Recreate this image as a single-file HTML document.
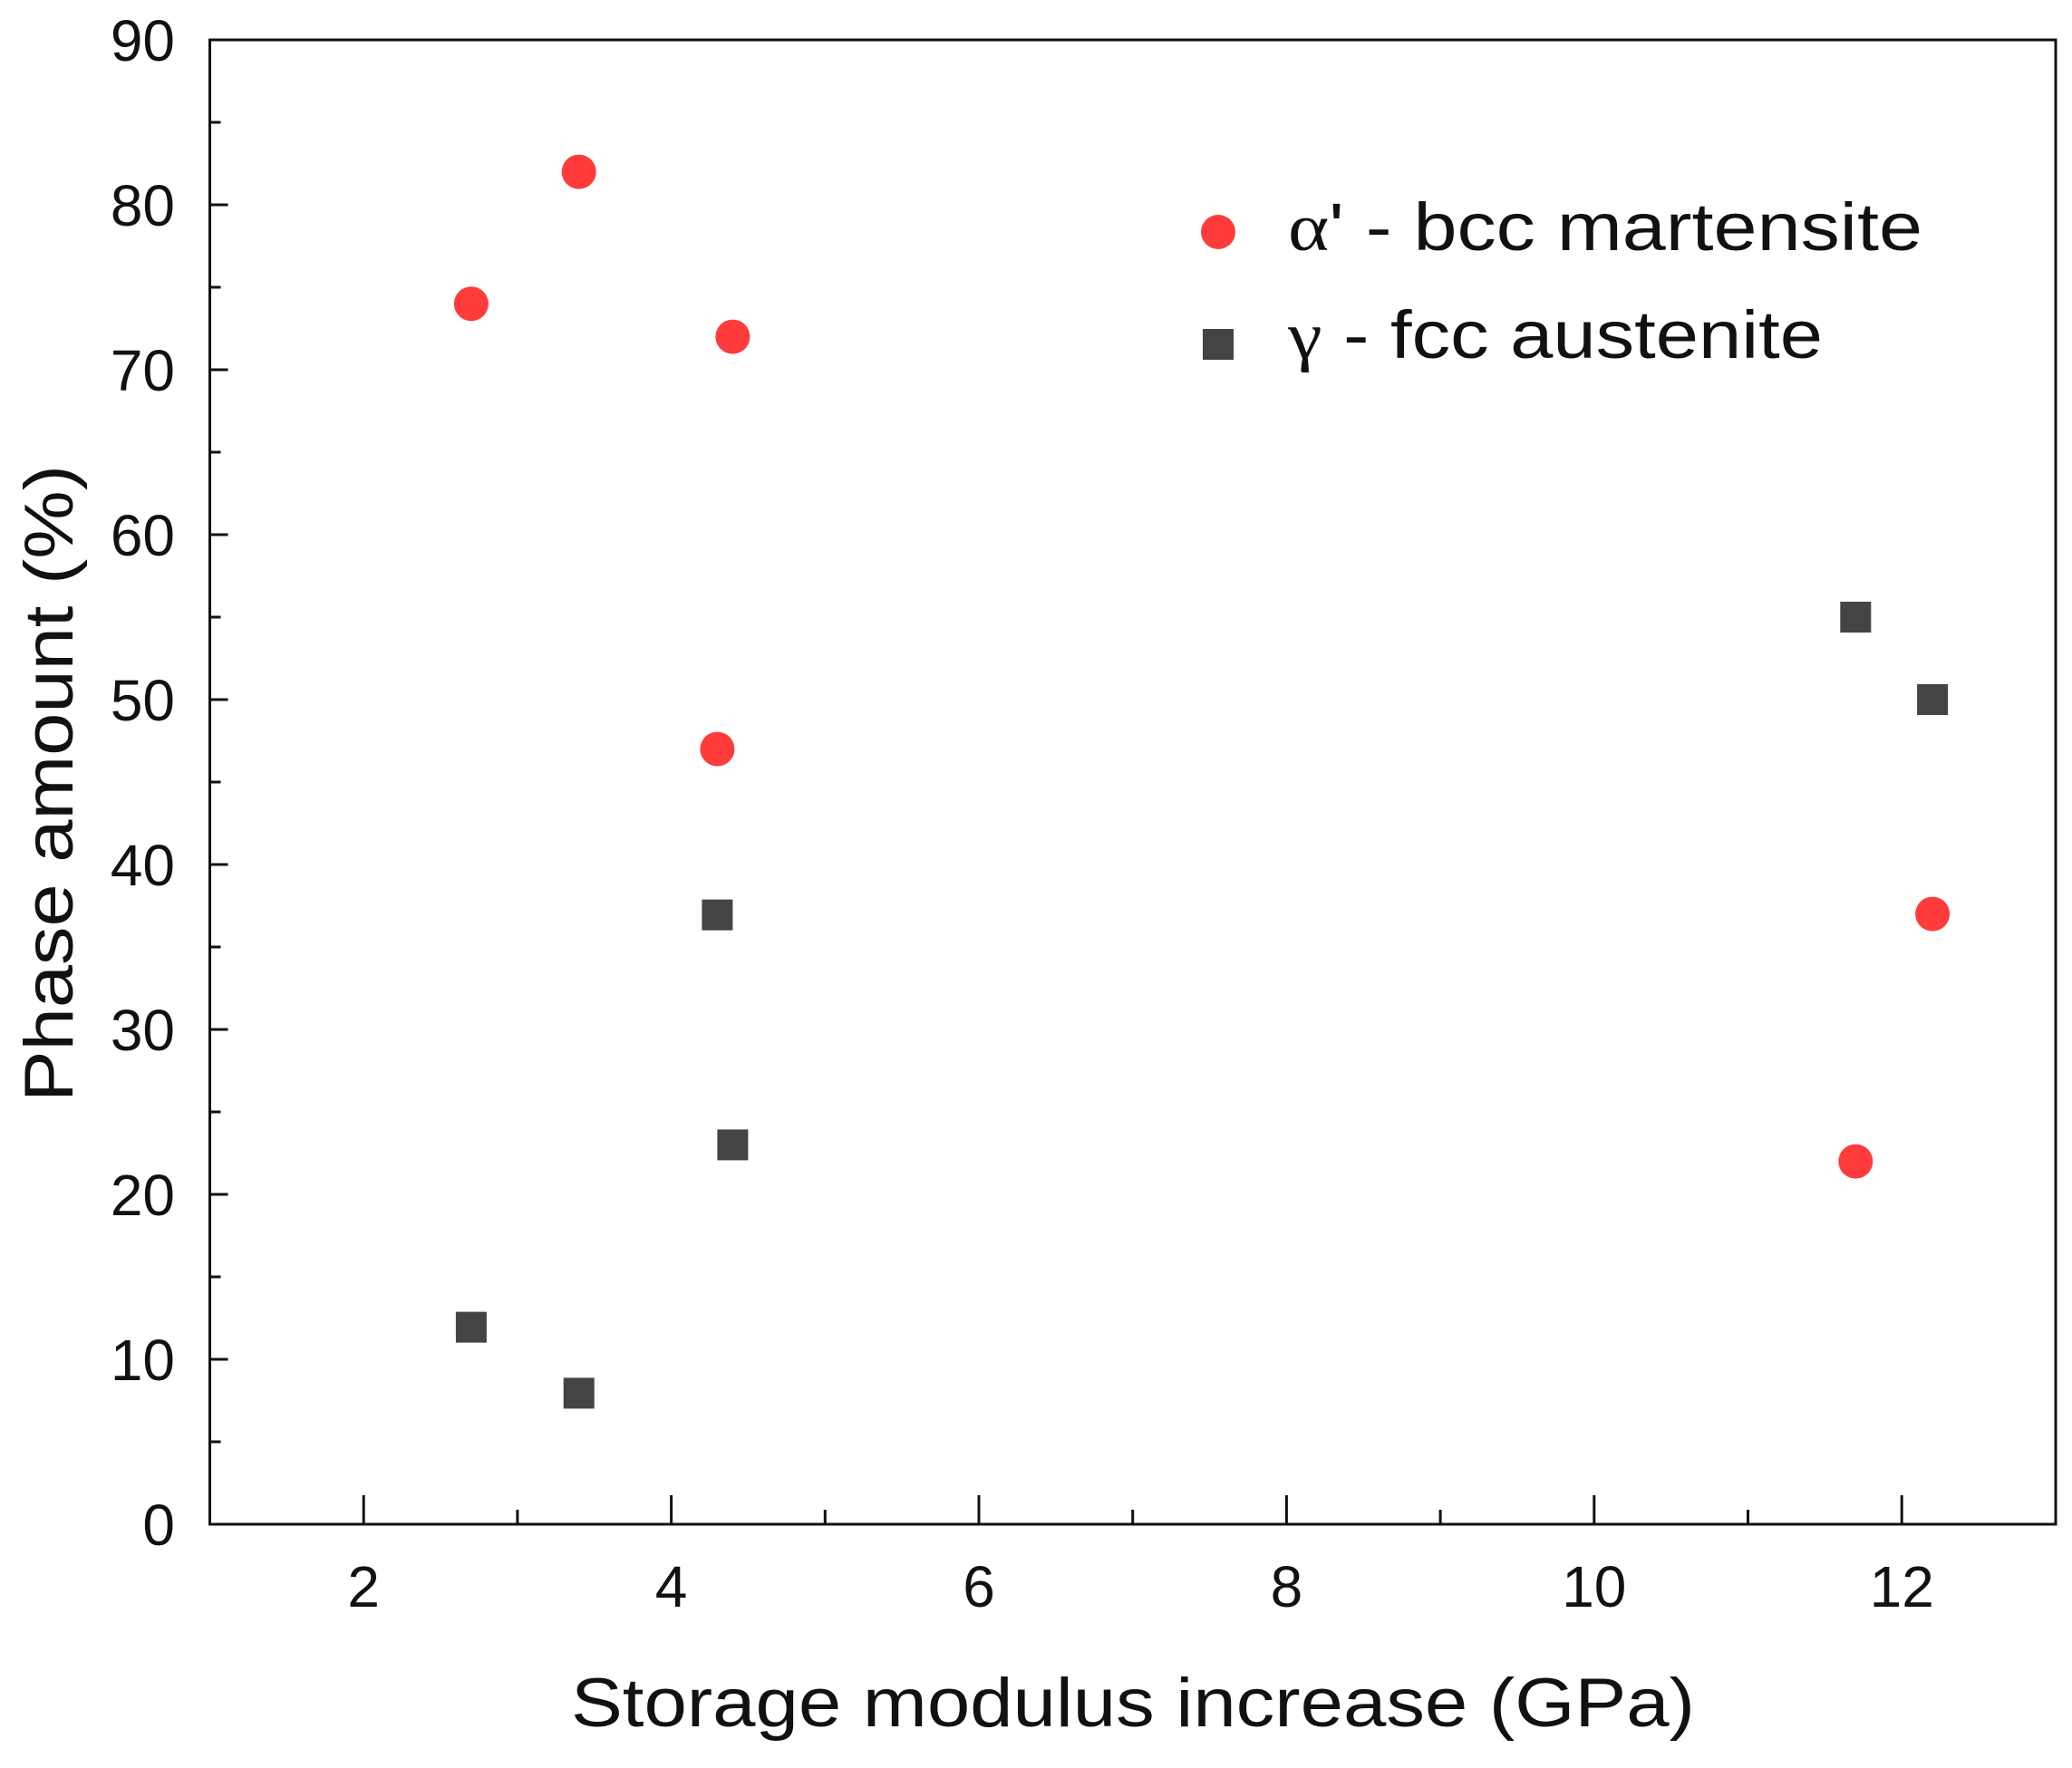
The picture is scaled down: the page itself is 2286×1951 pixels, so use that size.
<!DOCTYPE html>
<html><head><meta charset="utf-8"><style>html,body{margin:0;padding:0;background:#fff}svg{display:block}</style></head>
<body>
<svg width="2286" height="1951" viewBox="0 0 2286 1951" xmlns="http://www.w3.org/2000/svg" font-family="Liberation Sans, Arial, sans-serif">
<rect width="2286" height="1951" fill="#fff"/>
<rect x="231.5" y="44" width="2036.5" height="1638" fill="none" stroke="#111" stroke-width="3"/>
<g stroke="#111" stroke-width="3">
<line x1="231.5" y1="1682" x2="251.5" y2="1682"/>
<line x1="231.5" y1="1500" x2="251.5" y2="1500"/>
<line x1="231.5" y1="1318" x2="251.5" y2="1318"/>
<line x1="231.5" y1="1136" x2="251.5" y2="1136"/>
<line x1="231.5" y1="954" x2="251.5" y2="954"/>
<line x1="231.5" y1="772" x2="251.5" y2="772"/>
<line x1="231.5" y1="590" x2="251.5" y2="590"/>
<line x1="231.5" y1="408" x2="251.5" y2="408"/>
<line x1="231.5" y1="226" x2="251.5" y2="226"/>
<line x1="231.5" y1="1591" x2="243.5" y2="1591"/>
<line x1="231.5" y1="1409" x2="243.5" y2="1409"/>
<line x1="231.5" y1="1227" x2="243.5" y2="1227"/>
<line x1="231.5" y1="1045" x2="243.5" y2="1045"/>
<line x1="231.5" y1="863" x2="243.5" y2="863"/>
<line x1="231.5" y1="681" x2="243.5" y2="681"/>
<line x1="231.5" y1="499" x2="243.5" y2="499"/>
<line x1="231.5" y1="317" x2="243.5" y2="317"/>
<line x1="231.5" y1="135" x2="243.5" y2="135"/>
<line x1="401.2" y1="1682" x2="401.2" y2="1650"/>
<line x1="740.6" y1="1682" x2="740.6" y2="1650"/>
<line x1="1080" y1="1682" x2="1080" y2="1650"/>
<line x1="1419.4" y1="1682" x2="1419.4" y2="1650"/>
<line x1="1758.8" y1="1682" x2="1758.8" y2="1650"/>
<line x1="2098.2" y1="1682" x2="2098.2" y2="1650"/>
<line x1="570.9" y1="1682" x2="570.9" y2="1666"/>
<line x1="910.3" y1="1682" x2="910.3" y2="1666"/>
<line x1="1249.7" y1="1682" x2="1249.7" y2="1666"/>
<line x1="1589.1" y1="1682" x2="1589.1" y2="1666"/>
<line x1="1928.5" y1="1682" x2="1928.5" y2="1666"/>
</g>
<g font-size="64" fill="#111" text-anchor="end">
<text x="193" y="1705">0</text>
<text x="193" y="1523">10</text>
<text x="193" y="1341">20</text>
<text x="193" y="1159">30</text>
<text x="193" y="977">40</text>
<text x="193" y="795">50</text>
<text x="193" y="613">60</text>
<text x="193" y="431">70</text>
<text x="193" y="249">80</text>
<text x="193" y="67">90</text>
</g>
<g font-size="64" fill="#111" text-anchor="middle">
<text x="401.2" y="1773">2</text>
<text x="740.6" y="1773">4</text>
<text x="1080" y="1773">6</text>
<text x="1419.4" y="1773">8</text>
<text x="1758.8" y="1773">10</text>
<text x="2098.2" y="1773">12</text>
</g>
<text x="630" y="1905" font-size="76" fill="#111" textLength="1240" lengthAdjust="spacingAndGlyphs">Storage modulus increase (GPa)</text>
<text transform="translate(80,1216) rotate(-90)" x="0" y="0" font-size="76" fill="#111" textLength="703" lengthAdjust="spacingAndGlyphs">Phase amount (%)</text>
<g fill="#ff3b3b">
<circle cx="519.9" cy="335.2" r="19"/>
<circle cx="638.7" cy="189.6" r="19"/>
<circle cx="808.4" cy="371.6" r="19"/>
<circle cx="791.4" cy="826.6" r="19"/>
<circle cx="2047.3" cy="1281.6" r="19"/>
<circle cx="2132.1" cy="1008.6" r="19"/>
<circle cx="1344" cy="256" r="19"/>
</g>
<g fill="#444">
<rect x="502.9" y="1447.6" width="34" height="34"/>
<rect x="621.7" y="1520.4" width="34" height="34"/>
<rect x="774.4" y="992.6" width="34" height="34"/>
<rect x="791.4" y="1246.4" width="34" height="34"/>
<rect x="2030.3" y="664.0" width="34" height="34"/>
<rect x="2115.1" y="755.0" width="34" height="34"/>
<rect x="1327" y="363" width="34" height="34"/>
</g>
<text x="1421" y="276" font-size="74" fill="#111" textLength="700" lengthAdjust="spacingAndGlyphs"><tspan font-family="Liberation Serif, serif">α</tspan>' - bcc martensite</text>
<text x="1421" y="395" font-size="74" fill="#111" textLength="590" lengthAdjust="spacingAndGlyphs"><tspan font-family="Liberation Serif, serif">γ</tspan> - fcc austenite</text>
</svg>
</body></html>
